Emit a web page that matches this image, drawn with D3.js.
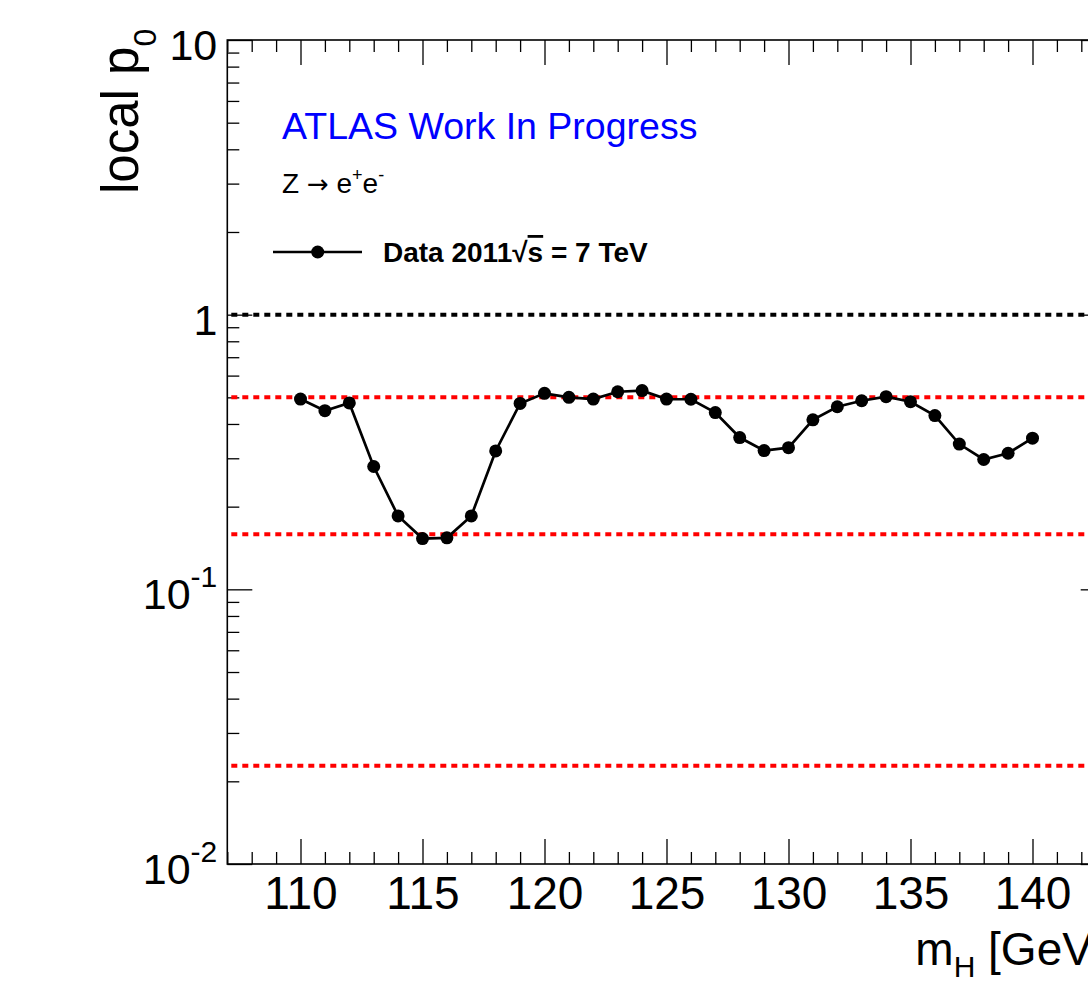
<!DOCTYPE html>
<html>
<head>
<meta charset="utf-8">
<script src="https://cdn.jsdelivr.net/npm/d3@7"></script>
<style>
body{margin:0;background:#fff;}
text{font-family:"Liberation Sans",Arial,Helvetica,sans-serif;}
</style>
</head>
<body>
<div id="chart"></div>
<script>
// Higgs mass points [GeV] and local p0
var masses = [110,111,112,113,114,115,116,117,118,119,120,121,122,123,124,125,126,127,128,129,130,131,132,133,134,135,136,137,138,139,140];
var p0 = [0.493,0.447,0.477,0.280,0.185,0.153,0.154,0.185,0.319,0.475,0.517,0.500,0.493,0.524,0.529,0.493,0.492,0.440,0.357,0.320,0.328,0.414,0.462,0.486,0.503,0.482,0.429,0.338,0.297,0.313,0.355];
// reference lines: p0 = 1 and 0, 1, 2 sigma
var unityLine = 1;
var sigmaLines = [0.5, 0.1587, 0.0228];
var xMajor = [110,115,120,125,130,135,140];
var yMajor = [0.01,0.1,1,10];
var yLabels = [["10","-2"],["10","-1"],["1",""],["10",""]];

var w = 1088, h = 989;
var plotL = 227.3, plotR = 1105.7, plotT = 40, plotB = 864;

var svg = d3.select("#chart").append("svg")
	.attr("width", w)
	.attr("height", h);

var x = d3.scaleLinear().domain([107, 143]).range([plotL, plotR]);
var y = d3.scaleLog().domain([0.01, 10]).range([plotB, plotT]);

var xMinor = d3.range(107, 144).filter(function(d){ return d % 5 !== 0; });
var yMinor = [];
[0.01, 0.1, 1].forEach(function(dec){
	for (var k = 2; k <= 9; k++) yMinor.push(dec * k);
});

function clean(g){
	g.select(".domain").remove();
	g.selectAll(".tick line").attr("stroke", "#000").attr("stroke-width", 1.3);
}

// bottom axis
var gx = svg.append("g")
	.attr("transform", "translate(0," + plotB + ")")
	.call(d3.axisBottom(x).tickValues(xMajor).tickSize(-25).tickPadding(12).tickFormat(d3.format("d")))
	.call(clean);
gx.selectAll("text").attr("font-size", 46).attr("fill", "#000");
svg.append("g")
	.attr("transform", "translate(0," + plotB + ")")
	.call(d3.axisBottom(x).tickValues(xMinor).tickSize(-12).tickFormat(""))
	.call(clean);

// top axis
svg.append("g")
	.attr("transform", "translate(0," + plotT + ")")
	.call(d3.axisTop(x).tickValues(xMajor).tickSize(-25).tickFormat(""))
	.call(clean);
svg.append("g")
	.attr("transform", "translate(0," + plotT + ")")
	.call(d3.axisTop(x).tickValues(xMinor).tickSize(-12).tickFormat(""))
	.call(clean);

// left axis
var gy = svg.append("g")
	.attr("transform", "translate(" + plotL + ",0)")
	.call(d3.axisLeft(y).tickValues(yMajor).tickSize(-25).tickPadding(10).tickFormat(function(){ return ""; }))
	.call(clean);
gy.selectAll(".tick text").each(function(d, i){
	var t = d3.select(this).attr("dy", "0.45em").attr("fill", "#000").attr("font-size", 43);
	t.append("tspan").text(yLabels[i][0]);
	if (yLabels[i][1]) t.append("tspan").attr("font-size", 30).attr("dy", -22).text(yLabels[i][1]);
});
svg.append("g")
	.attr("transform", "translate(" + plotL + ",0)")
	.call(d3.axisLeft(y).tickValues(yMinor).tickSize(-12).tickFormat(""))
	.call(clean);

// right axis
svg.append("g")
	.attr("transform", "translate(" + plotR + ",0)")
	.call(d3.axisRight(y).tickValues(yMajor).tickSize(-25).tickFormat(""))
	.call(clean);
svg.append("g")
	.attr("transform", "translate(" + plotR + ",0)")
	.call(d3.axisRight(y).tickValues(yMinor).tickSize(-12).tickFormat(""))
	.call(clean);

// frame
svg.append("rect")
	.attr("x", plotL).attr("y", plotT)
	.attr("width", plotR - plotL).attr("height", plotB - plotT)
	.attr("fill", "none").attr("stroke", "#000").attr("stroke-width", 1.6);

// reference lines
svg.append("line")
	.attr("x1", plotL + 4).attr("x2", plotR)
	.attr("y1", y(unityLine)).attr("y2", y(unityLine))
	.attr("stroke", "#000").attr("stroke-width", 4).attr("stroke-dasharray", "6,5");
svg.selectAll(".sigma")
	.data(sigmaLines)
	.enter().append("line")
	.attr("class", "sigma")
	.attr("x1", plotL + 4).attr("x2", plotR)
	.attr("y1", function(d){ return y(d); }).attr("y2", function(d){ return y(d); })
	.attr("stroke", "#ff0000").attr("stroke-width", 4).attr("stroke-dasharray", "6,5");

// data
var pts = d3.zip(masses, p0);
var line = d3.line()
	.x(function(d){ return x(d[0]); })
	.y(function(d){ return y(d[1]); });
svg.append("path")
	.datum(pts)
	.attr("d", line)
	.attr("fill", "none")
	.attr("stroke", "#000")
	.attr("stroke-width", 2.7);
svg.selectAll(".pt")
	.data(pts)
	.enter().append("circle")
	.attr("class", "pt")
	.attr("cx", function(d){ return x(d[0]); })
	.attr("cy", function(d){ return y(d[1]); })
	.attr("r", 6.5)
	.attr("fill", "#000");

// axis titles
var yt = svg.append("text")
	.attr("transform", "translate(138,194) rotate(-90)")
	.attr("font-size", 51)
	.attr("fill", "#000");
yt.append("tspan").text("local p");
yt.append("tspan").attr("font-size", 32).attr("dy", 18).text("0");

var xt = svg.append("text")
	.attr("x", plotR).attr("y", 965)
	.attr("text-anchor", "end")
	.attr("font-size", 46)
	.attr("fill", "#000");
xt.append("tspan").text("m");
xt.append("tspan").attr("font-size", 30).attr("dy", 12).text("H");
xt.append("tspan").attr("dy", -12).text(" [GeV]");

// labels
svg.append("text")
	.attr("x", 282).attr("y", 139)
	.attr("font-size", 37.5)
	.attr("fill", "#0000ff")
	.text("ATLAS Work In Progress");

var zt = svg.append("text")
	.attr("x", 282).attr("y", 193)
	.attr("font-size", 28)
	.attr("fill", "#000");
zt.append("tspan").text("Z ");
zt.append("tspan").style("font-family", "'DejaVu Sans'").attr("font-size", 26).text("\u2192");
zt.append("tspan").text(" e");
zt.append("tspan").attr("font-size", 18).attr("dy", -12).text("+");
zt.append("tspan").attr("dy", 12).text("e");
zt.append("tspan").attr("font-size", 18).attr("dy", -12).text("-");

// legend
svg.append("line")
	.attr("x1", 273).attr("x2", 362).attr("y1", 252).attr("y2", 252)
	.attr("stroke", "#000").attr("stroke-width", 2.7);
svg.append("circle")
	.attr("cx", 317.7).attr("cy", 252).attr("r", 6.5).attr("fill", "#000");
var lt = svg.append("text")
	.attr("x", 383).attr("y", 262)
	.attr("font-size", 28)
	.attr("font-weight", "bold")
	.attr("fill", "#000");
lt.append("tspan").text("Data 2011\u221A");
lt.append("tspan").style("text-decoration", "overline").text("s");
lt.append("tspan").text(" = 7 TeV");
</script>
</body>
</html>
